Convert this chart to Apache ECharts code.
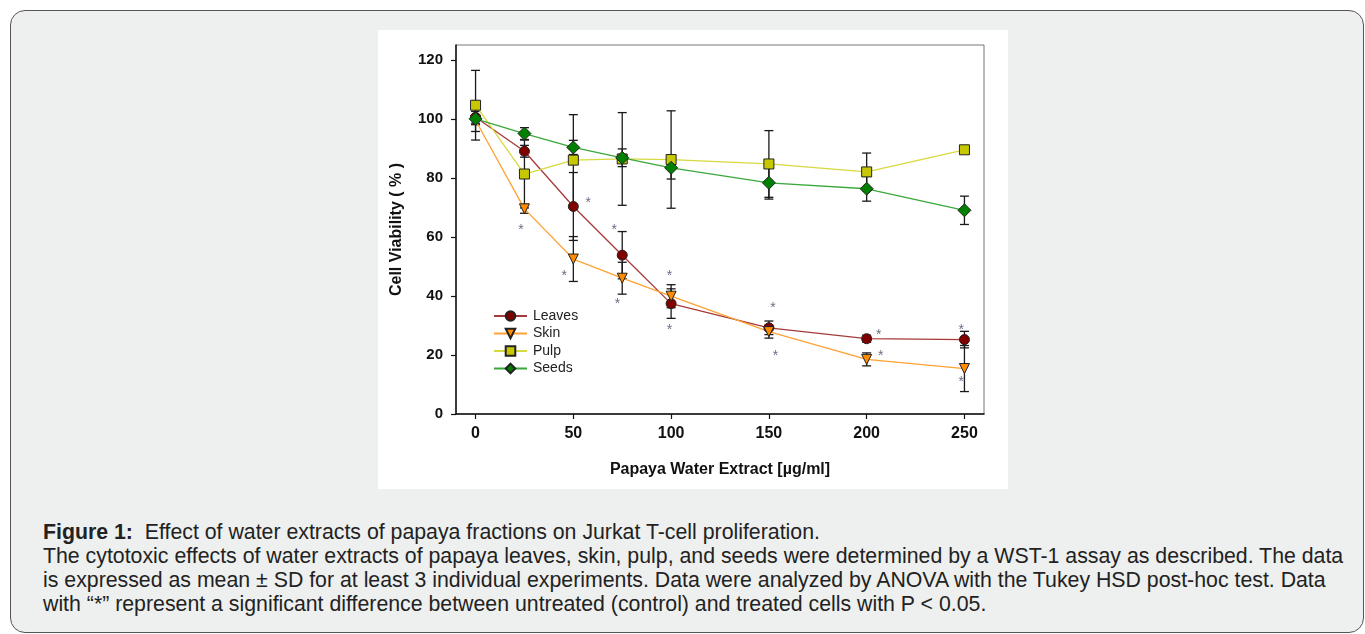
<!DOCTYPE html>
<html>
<head>
<meta charset="utf-8">
<script src="https://cdn.jsdelivr.net/npm/echarts@6/dist/echarts.min.js"></script>
<style>
  body { margin: 0; background: #fff; width: 1365px; height: 634px; overflow: hidden; position: relative; }
  #panel {
    position: absolute; left: 10px; top: 10px; width: 1352px; height: 621px;
    border: 1.5px solid #555; border-radius: 15px; background: #eef0ef;
  }
  #chart { position: absolute; left: 378px; top: 30px; width: 630px; height: 459px; background: #fff; }
  #caption {
    position: absolute; left: 43px; top: 520px; white-space: nowrap;
    font-family: 'Liberation Sans', Arial, sans-serif; font-size: 21.3px; line-height: 24px; color: #222;
  }
</style>
</head>
<body>
<div id="panel"></div>
<div id="chart"></div>
<div id="caption">
  <b>Figure 1:</b>&nbsp; Effect of water extracts of papaya fractions on Jurkat T-cell proliferation.<br>
  The cytotoxic effects of water extracts of papaya leaves, skin, pulp, and seeds were determined by a WST-1 assay as described. The data<br>
  is expressed as mean ± SD for at least 3 individual experiments. Data were analyzed by ANOVA with the Tukey HSD post-hoc test. Data<br>
  with “*” represent a significant difference between untreated (control) and treated cells with P &lt; 0.05.
</div>
<script>
// 数据：剂量 (µg/ml) 与各组细胞存活率 (%)
const doses = [0, 25, 50, 75, 100, 150, 200, 250];
const leaves = [100.5, 89.0, 70.3, 53.8, 37.4, 29.2, 25.5, 25.2];
const leavesSd = [2.0, 2.0, 11.5, 8.0, 5.0, 2.3, 1.2, 2.8];
const skin = [99.5, 69.5, 52.5, 46.0, 39.9, 27.9, 18.5, 15.4];
const skinSd = [1.5, 1.5, 7.6, 5.4, 3.9, 2.2, 2.2, 7.8];
const pulp = [104.6, 81.3, 86.0, 86.4, 86.2, 84.7, 82.0, 89.5];
const pulpSd = [11.8, 11.5, 15.4, 15.7, 16.5, 11.3, 6.4, 1.2];
const seeds = [100.0, 95.0, 90.3, 86.8, 83.4, 78.3, 76.3, 69.0];
const seedsSd = [4.3, 2.0, 2.4, 3.0, 3.8, 5.5, 4.2, 4.8];

// 显著性星号位置 [x, y]
const asteriskPoints = [
  [23.2, 63.6], [57.6, 72.6], [45.4, 47.8], [70.9, 63.6], [72.6, 38.5],
  [99.1, 47.8], [99.1, 29.7], [152.1, 36.9], [153.4, 20.7], [206.2, 27.8],
  [207.2, 20.7], [248.4, 29.7], [248.4, 11.9]
];

const xTicks = [0, 50, 100, 150, 200, 250];
const yTicks = [0, 20, 40, 60, 80, 100, 120];

const font = "'Liberation Sans', Arial, sans-serif";
const narrow = "'Liberation Sans Narrow', 'Arial Narrow', 'Liberation Sans', sans-serif";

function pairs(values) {
  return doses.map((d, i) => [d, values[i]]);
}

function bars(values, sds) {
  return doses.map((d, i) => [d, values[i] - sds[i], values[i] + sds[i]]);
}

function errorSeries(name, values, sds) {
  return {
    type: 'custom',
    name: name + ' SD',
    data: bars(values, sds),
    encode: { x: 0, y: [1, 2] },
    z: 1,
    silent: true,
    renderItem: function (params, api) {
      const x = api.value(0);
      const lo = api.coord([x, api.value(1)]);
      const hi = api.coord([x, api.value(2)]);
      const w = 4.5;
      const style = { stroke: '#1a1a1a', lineWidth: 1.3 };
      return {
        type: 'group',
        children: [
          { type: 'line', shape: { x1: lo[0], y1: lo[1], x2: hi[0], y2: hi[1] }, style: style },
          { type: 'line', shape: { x1: lo[0] - w, y1: lo[1], x2: lo[0] + w, y2: lo[1] }, style: style },
          { type: 'line', shape: { x1: hi[0] - w, y1: hi[1], x2: hi[0] + w, y2: hi[1] }, style: style }
        ]
      };
    }
  };
}

function lineSeries(name, values, symbol, size, fill, stroke, rotate) {
  return {
    type: 'line',
    name: name,
    data: pairs(values),
    symbol: symbol,
    symbolSize: size,
    symbolRotate: rotate || 0,
    showAllSymbol: true,
    z: 3,
    itemStyle: { color: fill, borderColor: '#222', borderWidth: 1 },
    lineStyle: { color: stroke, width: 1.3 }
  };
}

const chart = echarts.init(document.getElementById('chart'));

const option = {
  animation: false,
  backgroundColor: '#fff',
  grid: {
    left: 78, right: 24, top: 15, bottom: 75,
    show: true, borderColor: '#777', borderWidth: 1
  },
  legend: {
    data: ['Leaves', 'Skin', 'Pulp', 'Seeds'],
    orient: 'vertical',
    left: 110,
    top: 274,
    itemWidth: 33,
    itemHeight: 12,
    itemGap: 3.5,
    textStyle: { fontFamily: font, fontSize: 14, color: '#222', lineHeight: 12, padding: [0, 0, 0, 1] }
  },
  xAxis: {
    type: 'value',
    min: -10,
    max: 260,
    splitLine: { show: false },
    axisLine: { onZero: false, lineStyle: { color: '#111', width: 1.5 } },
    axisTick: { show: true, length: 5, customValues: xTicks, lineStyle: { color: '#111', width: 1.2 } },
    axisLabel: {
      customValues: xTicks,
      fontFamily: narrow, fontWeight: 'bold', fontSize: 16, color: '#111', margin: 12
    },
    name: 'Papaya Water Extract [µg/ml]',
    nameLocation: 'middle',
    nameGap: 48,
    nameTextStyle: { fontFamily: font, fontWeight: 'bold', fontSize: 16, color: '#111' }
  },
  yAxis: {
    type: 'value',
    min: 0,
    max: 125,
    splitLine: { show: false },
    axisLine: { show: true, onZero: false, lineStyle: { color: '#111', width: 1.5 } },
    axisTick: { show: true, length: 5, customValues: yTicks, lineStyle: { color: '#111', width: 1.2 } },
    axisLabel: {
      customValues: yTicks,
      fontFamily: narrow, fontWeight: 'bold', fontSize: 15, color: '#111', margin: 13
    },
    name: 'Cell Viability ( % )',
    nameLocation: 'middle',
    nameGap: 51,
    nameTextStyle: { fontFamily: font, fontWeight: 'bold', fontSize: 16, color: '#111' }
  },
  series: [
    errorSeries('Leaves', leaves, leavesSd),
    errorSeries('Skin', skin, skinSd),
    errorSeries('Pulp', pulp, pulpSd),
    errorSeries('Seeds', seeds, seedsSd),
    lineSeries('Leaves', leaves, 'circle', 10, '#800000', '#a63a3a'),
    lineSeries('Skin', skin, 'triangle', 10, '#ff8c00', '#ffa133', 180),
    lineSeries('Pulp', pulp, 'rect', 10, '#c8c800', '#d8d840'),
    lineSeries('Seeds', seeds, 'diamond', 13, '#008000', '#3aa83a'),
    {
      type: 'scatter',
      name: 'asterisk',
      data: asteriskPoints,
      symbolSize: 2,
      itemStyle: { color: 'rgba(0,0,0,0)' },
      silent: true,
      z: 4,
      label: {
        show: true, formatter: '*', position: 'inside', offset: [0, 3.5],
        fontFamily: font, fontSize: 14, color: '#4a4766'
      }
    }
  ]
};

chart.setOption(option);
</script>
</body>
</html>
